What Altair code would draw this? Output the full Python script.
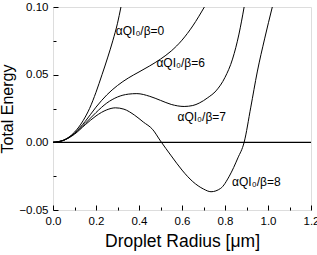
import altair as alt
import pandas as pd

# ---- data ----
r0 = [0.0, 0.05, 0.10, 0.14, 0.17, 0.20, 0.228, 0.255, 0.278, 0.30, 0.316]
e0 = [0.0, 0.0017, 0.0075, 0.016, 0.025, 0.037, 0.050, 0.063, 0.075, 0.088, 0.100]

r6 = [0.0, 0.05, 0.10, 0.15, 0.20, 0.25, 0.30, 0.35, 0.40, 0.45, 0.50, 0.55, 0.60, 0.65, 0.704]
e6 = [0.0, 0.0016, 0.0068, 0.0155, 0.026, 0.035, 0.042, 0.0475, 0.052, 0.0565, 0.0615, 0.0675, 0.0755, 0.086, 0.100]

r7 = [0.0, 0.05, 0.10, 0.15, 0.20, 0.25, 0.30, 0.35, 0.39, 0.45, 0.50, 0.55, 0.61, 0.65, 0.68, 0.72, 0.758, 0.80, 0.835, 0.865, 0.889]
e7 = [0.0, 0.0015, 0.0065, 0.014, 0.022, 0.029, 0.0335, 0.0356, 0.036, 0.034, 0.031, 0.028, 0.0265, 0.0272, 0.029, 0.033, 0.038, 0.048, 0.0615, 0.080, 0.100]

r8 = [0.0, 0.05, 0.10, 0.15, 0.20, 0.25, 0.29, 0.33, 0.38, 0.42, 0.463, 0.50, 0.55, 0.60, 0.65, 0.70, 0.735, 0.78, 0.82, 0.86, 0.889, 0.92, 0.95, 0.985, 1.02]
e8 = [0.0, 0.0015, 0.006, 0.013, 0.0195, 0.024, 0.0255, 0.0245, 0.020, 0.015, 0.0096, 0.001, -0.010, -0.0205, -0.029, -0.0345, -0.0365, -0.034, -0.025, -0.0115, 0.0, 0.026, 0.052, 0.077, 0.100]

series_names = ["0", "6", "7", "8"]
label_text = ["αQI₀/β=0", "αQI₀/β=6", "αQI₀/β=7", "αQI₀/β=8"]
label_r = [0.292, 0.481, 0.579, 0.833]
label_e = [0.082, 0.0585, 0.019, -0.029]

x_ticks = [0.0, 0.2, 0.4, 0.6, 0.8, 1.0, 1.2]
y_ticks = [-0.05, 0.0, 0.05, 0.10]
x_minor = [round(i * 0.1, 2) for i in range(13)]
y_minor = [round(-0.05 + i * 0.025, 3) for i in range(7)]
zero_x = [0.0, 1.2]
zero_y = [0.0, 0.0]

rows = []
for name, rr, ee in zip(series_names, [r0, r6, r7, r8], [e0, e6, e7, e8]):
    for i, (a, b) in enumerate(zip(rr, ee)):
        rows.append({"series": name, "r": a, "E": b, "order": i})
df = pd.DataFrame(rows)
df_lab = pd.DataFrame({"text": label_text, "r": label_r, "E": label_e})
df_zero = pd.DataFrame({"r": zero_x, "E": zero_y})

W, H = 258, 203
FONT = "Liberation Sans"

xscale = alt.Scale(domain=[0, 1.2], nice=False, zero=False)
yscale = alt.Scale(domain=[-0.05, 0.10], nice=False, zero=False)

curves = alt.Chart(df).mark_line(interpolate="monotone", color="black", clip=True).encode(
    x=alt.X("r:Q", scale=xscale,
            axis=alt.Axis(orient="bottom", values=x_ticks, format=".1f", tickSize=0,
                          domain=False, grid=False, labelPadding=5, labelFontSize=11.5,
                          labelFont=FONT, labelColor="black", labelFlush=False,
                          labelOverlap=False,
                          title="Droplet Radius [μm]", titleFont=FONT, titleFontSize=17.5,
                          titleFontWeight="normal", titleColor="black", titlePadding=6)),
    y=alt.Y("E:Q", scale=yscale,
            axis=alt.Axis(orient="left", values=y_ticks, format=".2f", tickSize=0,
                          domain=False, grid=False, labelPadding=5, labelFontSize=11.5,
                          labelFont=FONT, labelColor="black", labelFlush=False,
                          labelOverlap=False,
                          title="Total Energy", titleFont=FONT, titleFontSize=16,
                          titleFontWeight="normal", titleColor="black", titlePadding=3)),
    detail="series:N",
    order="order:Q",
    strokeWidth=alt.StrokeWidth("series:N",
                                scale=alt.Scale(domain=series_names, range=[1, 1, 1, 2]),
                                legend=None),
)

zero = alt.Chart(df_zero).mark_line(color="black", strokeWidth=1.2).encode(
    x=alt.X("r:Q", scale=xscale,
            axis=alt.Axis(orient="top", offset=-H, values=x_minor, labels=False,
                          domain=False, grid=False, title=None, tickColor="black",
                          tickSize={"condition": {"test": "abs(datum.value*5 - round(datum.value*5)) < 0.001", "value": 5}, "value": 3})),
    y=alt.Y("E:Q", scale=yscale,
            axis=alt.Axis(orient="right", offset=-W, values=y_minor, labels=False,
                          domain=False, grid=False, title=None, tickColor="black",
                          tickSize={"condition": {"test": "abs(datum.value*20 - round(datum.value*20)) < 0.001", "value": 5}, "value": 3})),
)

labels = alt.Chart(df_lab).mark_text(align="left", baseline="middle", font=FONT,
                                      fontSize=12, color="black").encode(
    x=alt.X("r:Q", scale=xscale, axis=None),
    y=alt.Y("E:Q", scale=yscale, axis=None),
    text="text:N",
)

chart = alt.layer(curves, zero, labels).resolve_axis(
    x="independent", y="independent"
).properties(
    width=W, height=H,
    autosize=alt.AutoSizeParams(type="none"),
    padding={"left": 53, "top": 7, "right": 6, "bottom": 45},
).configure_view(
    stroke="black", strokeWidth=1.2
).configure(background="white")

chart.save("out.html", embed_options={"renderer": "svg", "actions": False})
